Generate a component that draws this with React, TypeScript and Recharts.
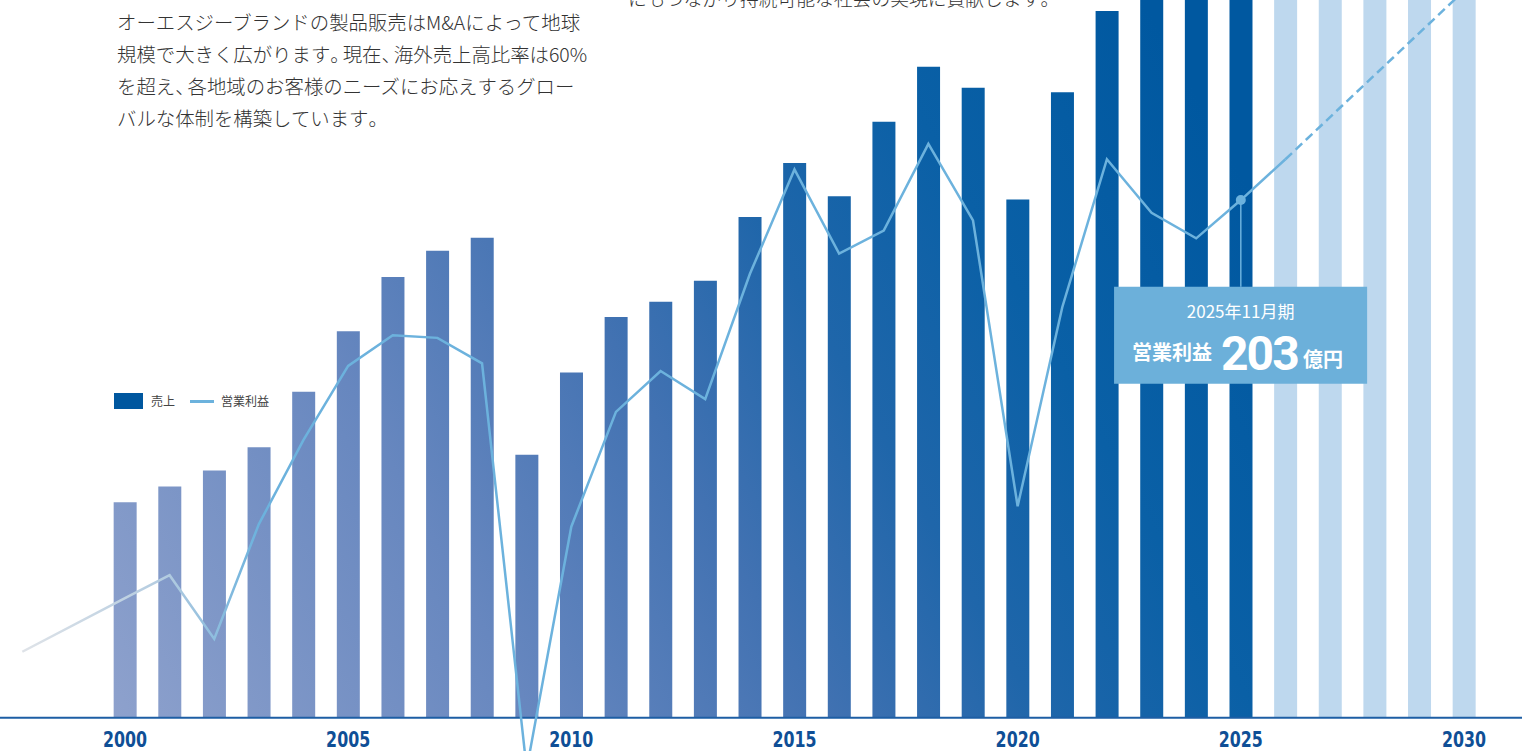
import { ComposedChart, Bar, Line, XAxis, YAxis, Cell, Legend, ReferenceLine, ReferenceDot, ReferenceArea } from 'recharts'

const YEARS = [
  2000, 2001, 2002, 2003, 2004, 2005, 2006, 2007, 2008, 2009,
  2010, 2011, 2012, 2013, 2014, 2015, 2016, 2017, 2018, 2019,
  2020, 2021, 2022, 2023, 2024, 2025, 2026, 2027, 2028, 2029, 2030,
]
// 売上 (億円)
const SALES = [
  435, 467, 499, 546, 658, 780, 890, 943, 969, 531,
  697, 809, 840, 882, 1011, 1120, 1053, 1203, 1314, 1272,
  1046, 1263, 1427, 1503, 1475, 1580, 1650, 1750, 1850, 1950, 2050,
]
// 営業利益 (億円), 2000-2026
const PROFIT = [
  47, 56, 31, 76, 109, 138, 150, 149, 139, -20,
  75, 120, 136, 125, 174, 215, 182, 191, 225, 195,
  83, 161, 219, 198, 188, 203, 219,
]
const PROFIT_LEAD_YEAR = 1997.7
const PROFIT_LEAD = 26
const PLAN_YEARS = [2026, 2030]
const PLAN = [219, 285]
const TICKS = [2000, 2005, 2010, 2015, 2020, 2025, 2030]
const LAST_ACTUAL = 2025
const CALLOUT_PERIOD = '2025年11月期'
const CALLOUT_LABEL = '営業利益'
const CALLOUT_VALUE = 203
const CALLOUT_UNIT = '億円'

const INTRO_LINES = [
  'オーエスジーブランドの製品販売はM&Aによって地球',
  '規模で大きく広がります。現在、海外売上高比率は60%',
  'を超え、各地域のお客様のニーズにお応えするグロー',
  'バルな体制を構築しています。',
]
const TOP_LINE = 'にもつながり持続可能な社会の実現に貢献します。'

const LINE_COLOR = '#6cb2dd'
const BAR_DARK = '#00579f'
const BAR_FUTURE = '#bed8ee'
const AXIS_BLUE = '#0f4f96'

const data = [
  { year: PROFIT_LEAD_YEAR, profit: PROFIT_LEAD },
  ...YEARS.map((year, i) => ({
    year,
    sales: SALES[i],
    profit: i < PROFIT.length ? PROFIT[i] : undefined,
    plan: PLAN_YEARS.includes(year) ? PLAN[PLAN_YEARS.indexOf(year)] : undefined,
  })),
]

// tighten 、。 like the original typesetting
function Tight({ text }: { text: string }) {
  return (
    <>
      {text.split(/([、。])/).map((part, i) =>
        part === '、' || part === '。'
          ? <span key={i} style={{ letterSpacing: -7 }}>{part}</span>
          : <span key={i}>{part}</span>
      )}
    </>
  )
}

function Callout({ viewBox }: any) {
  const { x, y, width } = viewBox
  return (
    <g>
      <text x={x + width / 2} y={y + 31} textAnchor="middle" fill="#fff" fontSize={17}>
        {CALLOUT_PERIOD}
      </text>
      <text x={x + 18} y={y + 73} fill="#fff" fontSize={20} fontWeight={700}>
        {CALLOUT_LABEL}
      </text>
      <text x={x + 107} y={y + 83} fill="#fff" fontSize={48} fontWeight={700} fontFamily="Roboto" letterSpacing={-2}>
        {CALLOUT_VALUE}
      </text>
      <text x={x + 189} y={y + 80} fill="#fff" fontSize={20} fontWeight={700}>
        {CALLOUT_UNIT}
      </text>
    </g>
  )
}

// condensed bold year labels, sitting just under the baseline rule
function YearTick({ x, payload }: any) {
  return (
    <text
      transform={`translate(${x},747) scale(0.8,1)`}
      textAnchor="middle"
      fill={AXIS_BLUE}
      fontSize={22}
      fontWeight={700}
      fontFamily={'"Liberation Sans Narrow", "DejaVu Sans Condensed", sans-serif'}
    >
      {payload.value}
    </text>
  )
}

function LegendContent() {
  return (
    <div style={{ display: 'flex', alignItems: 'center', fontSize: 12, color: '#444', lineHeight: '16px' }}>
      <span style={{ display: 'inline-block', width: 29, height: 16, background: BAR_DARK }} />
      <span style={{ marginLeft: 8 }}>売上</span>
      <span style={{ display: 'inline-block', width: 24, height: 3, background: LINE_COLOR, marginLeft: 15 }} />
      <span style={{ marginLeft: 7 }}>営業利益</span>
    </div>
  )
}

export default function App() {
  return (
    <div
      style={{
        position: 'fixed', left: 0, top: 0, width: 1522, height: 752, overflow: 'hidden',
        background: '#fff', fontFamily: '"Noto Sans CJK JP", sans-serif',
      }}
    >
      <div style={{ position: 'absolute', left: 628, top: -18, fontSize: 18.8, fontWeight: 300, lineHeight: '32px', color: '#333', whiteSpace: 'nowrap' }}>
        <Tight text={TOP_LINE} />
      </div>
      <div style={{ position: 'absolute', left: 117, top: 6, fontSize: 19.4, fontWeight: 300, lineHeight: '32px', color: '#333', whiteSpace: 'nowrap' }}>
        {INTRO_LINES.map((line, i) => (
          <div key={i}><Tight text={line} /></div>
        ))}
      </div>
      <ComposedChart width={1522} height={752} data={data} margin={{ top: 0, right: 0, bottom: 0, left: 0 }}>
        <defs>
          <linearGradient id="barGrad" gradientUnits="userSpaceOnUse" x1={100} y1={718} x2={1200} y2={100}>
            <stop offset="0" stopColor="#8fa2cd" />
            <stop offset="0.3" stopColor="#6787bf" />
            <stop offset="0.5" stopColor="#4272b2" />
            <stop offset="0.65" stopColor="#1f66aa" />
            <stop offset="0.8" stopColor="#0a60a6" />
            <stop offset="1" stopColor="#0058a0" />
          </linearGradient>
          <linearGradient id="profitGrad" gradientUnits="userSpaceOnUse" x1={0} y1={0} x2={1522} y2={0}>
            <stop offset="0.014" stopColor="#dfe3e8" />
            <stop offset="0.11" stopColor="#b2cbe0" />
            <stop offset="0.17" stopColor={LINE_COLOR} />
            <stop offset="1" stopColor={LINE_COLOR} />
          </linearGradient>
        </defs>
        <XAxis
          type="number"
          dataKey="year"
          domain={[1997.2, 2031.3]}
          allowDataOverflow
          ticks={TICKS}
          interval={0}
          height={1}
          axisLine={false}
          tickLine={false}
          tick={YearTick}
        />
        <YAxis yAxisId="sales" hide domain={[-67.2, 1449]} allowDataOverflow />
        <YAxis yAxisId="profit" hide orientation="right" domain={[-12.9, 281.4]} allowDataOverflow />
        <Legend
          layout="horizontal"
          verticalAlign="middle"
          align="center"
          wrapperStyle={{ left: 114, top: 393, width: 320, height: 16 }}
          content={LegendContent}
        />
        <Bar yAxisId="sales" dataKey="sales" name="売上" barSize={23} isAnimationActive={false}>
          {data.map((d, i) => (
            <Cell key={i} fill={d.year > LAST_ACTUAL ? BAR_FUTURE : 'url(#barGrad)'} />
          ))}
        </Bar>
        <ReferenceLine yAxisId="sales" y={0} stroke="#1d5ea4" strokeWidth={2} />
        <Line
          yAxisId="profit"
          dataKey="profit"
          name="営業利益"
          stroke="url(#profitGrad)"
          strokeWidth={2.5}
          dot={false}
          activeDot={false}
          isAnimationActive={false}
        />
        <Line
          yAxisId="profit"
          dataKey="plan"
          stroke={LINE_COLOR}
          strokeWidth={2.5}
          strokeDasharray="9 5"
          dot={false}
          activeDot={false}
          connectNulls
          legendType="none"
          isAnimationActive={false}
        />
        <ReferenceLine
          yAxisId="profit"
          segment={[{ x: LAST_ACTUAL, y: CALLOUT_VALUE }, { x: LAST_ACTUAL, y: 169 }]}
          stroke={LINE_COLOR}
          strokeWidth={1.5}
        />
        <ReferenceDot yAxisId="profit" x={LAST_ACTUAL} y={CALLOUT_VALUE} r={5} fill={LINE_COLOR} stroke="none" />
        <ReferenceArea
          yAxisId="profit"
          x1={2022.16}
          x2={2027.83}
          y1={131}
          y2={169}
          fill="#6cb0da"
          fillOpacity={1}
          stroke="none"
          zIndex={1500}
          label={Callout}
        />
      </ComposedChart>
    </div>
  )
}
